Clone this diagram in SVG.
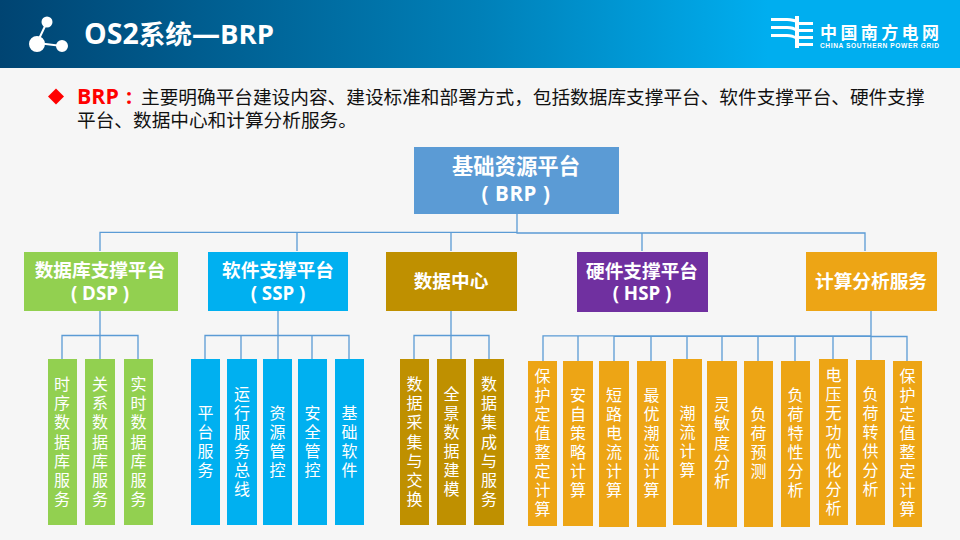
<svg xmlns="http://www.w3.org/2000/svg" width="960" height="540" viewBox="0 0 960 540">
<defs><linearGradient id="hdr" x1="0" y1="0" x2="1" y2="0"><stop offset="0" stop-color="#004472"/><stop offset="0.5" stop-color="#0080b8"/><stop offset="0.8" stop-color="#00aeef"/><stop offset="1" stop-color="#00aeef"/></linearGradient></defs>
<style>
text{font-family:"Liberation Sans","Noto Sans CJK SC",sans-serif}
.lat{font-family:"Open Sans","Noto Sans CJK SC",sans-serif}
.w{fill:#fff;font-weight:700;text-anchor:middle}
.t1{font-size:21.33px}.t2{font-size:18.67px}
.v{fill:#fff;font-family:"Noto Sans CJK SC",sans-serif;font-size:16px;text-anchor:middle;writing-mode:vertical-rl;letter-spacing:3.1px}
.b{fill:#111;font-size:18.67px}
.c{fill:none;stroke:#5b9bd5;stroke-width:1.3}
.g{fill:#92d050}.s{fill:#00b0f0}.d{fill:#bf9000}.o{fill:#eda515}
</style>
<rect width="960" height="540" fill="#f6f6f6"/>
<g id="header">
<rect width="960" height="68" fill="url(#hdr)"/>
<g id="icon" fill="#fff" stroke="#fff" stroke-width="2"><path d="M47 22L37 43L62 46" fill="none"/><circle cx="47" cy="22" r="4.500"/><circle cx="37" cy="44" r="7"/><circle cx="62" cy="46" r="5"/></g>
<text x="84" y="44" fill="#fff" font-size="26.67" font-weight="700" class="lat"><tspan font-size="28.500">OS2</tspan>系统<tspan font-size="28">—</tspan><tspan font-size="27.500">BRP</tspan></text>
<g id="logo" fill="#fff"><path d="M771 18h16c5 0 8 1 10 2v3c-3-1-6-2-10-2h-16zM771 26h16c5 0 8 1 10 3v3c-3-2-6-3-10-3h-16zM771 34h16c4 0 7 1 10 3v3c-3-2-6-3-10-3h-16z"/><path d="M795 16h4v32h-4zM799 22h14v3h-14zM799 29h14v3h-14zM799 36h14v3h-14zM799 43h14v3h-14z"/></g>
<text x="820" y="38.500" fill="#fff" font-size="17" font-weight="700" letter-spacing="3.400">中国南方电网</text>
<text x="820" y="48" fill="#fff" font-size="6.600" font-weight="700" textLength="119">CHINA SOUTHERN POWER GRID</text>
</g>
<g id="intro">
<path d="M56 88.500l8 8l-8 8l-8-8z" fill="#f00"/>
<text x="77" y="104" font-size="21.33" font-weight="700" fill="#f00" class="lat">BRP</text>
<text x="126" y="104" font-size="21.33" font-weight="700" fill="#f00" class="lat">:</text>
<text x="141" y="104" class="b">主要明确平台建设内容、建设标准和部署方式，包括数据库支撑平台、软件支撑平台、硬件支撑</text>
<text x="77" y="127" class="b">平台、数据中心和计算分析服务。</text>
</g>
<g id="connectors" class="c">
<path d="M517 214V233H865V251M517 232.300H100V251M297 232.300V251M451 232.300V251M642 233V251"/>
<path d="M100 311V359M62 359V335.500H138V359"/>
<path d="M278 311V359M205 359V335.500H349V359M241 335.500V359M312 335.500V359"/>
<path d="M451 311V359M414 359V335.500H489V359"/>
<path d="M871 311V360M543 361V335.800H871M614 336.300H871M871 336.500H907V361M578 336V361M614 336V361M651 336V361M687 336V359M722 336V361M758 336V361M795 336V361M833 336V359"/>
</g>
<g id="brp"><rect x="414" y="147" width="205" height="67" fill="#5b9bd5"/><text x="516" y="174" class="w t1">基础资源平台</text><text x="516" y="200.500" class="w lat" font-size="20.500" letter-spacing="0.600">( BRP )</text></g>
<g id="dsp"><rect class="g" x="24" y="252" width="154" height="59"/><text x="100" y="277" class="w t2">数据库支撑平台</text><text x="100" y="300" class="w t2 lat">( DSP )</text></g>
<g id="ssp"><rect class="s" x="208" y="252" width="140" height="59"/><text x="278" y="277" class="w t2">软件支撑平台</text><text x="278" y="300" class="w t2 lat">( SSP )</text></g>
<g id="dc"><rect class="d" x="386" y="252" width="131" height="59"/><text x="451" y="288" class="w t2">数据中心</text></g>
<g id="hsp"><rect x="577" y="252" width="131" height="60" fill="#7030a0"/><text x="642" y="278" class="w t2">硬件支撑平台</text><text x="642" y="300" class="w t2 lat">( HSP )</text></g>
<g id="calc"><rect class="o" x="806" y="252" width="131" height="59"/><text x="871" y="288" class="w t2">计算分析服务</text></g>
<g id="dsp1"><rect class="g" x="48" y="359" width="29" height="166"/><text x="62" y="443" class="v">时序数据库服务</text></g>
<g id="dsp2"><rect class="g" x="85" y="359" width="30" height="166"/><text x="100" y="443" class="v">关系数据库服务</text></g>
<g id="dsp3"><rect class="g" x="124" y="359" width="29" height="166"/><text x="138.500" y="443" class="v">实时数据库服务</text></g>
<g id="ssp1"><rect class="s" x="191" y="359" width="29" height="166"/><text x="205.500" y="443" class="v">平台服务</text></g>
<g id="ssp2"><rect class="s" x="227" y="359" width="30" height="166"/><text x="242" y="443" class="v">运行服务总线</text></g>
<g id="ssp3"><rect class="s" x="263" y="359" width="29" height="166"/><text x="277.500" y="443" class="v">资源管控</text></g>
<g id="ssp4"><rect class="s" x="298" y="359" width="29" height="166"/><text x="312.500" y="443" class="v">安全管控</text></g>
<g id="ssp5"><rect class="s" x="335" y="359" width="29" height="166"/><text x="349.500" y="443" class="v">基础软件</text></g>
<g id="dc1"><rect class="d" x="400" y="359" width="29" height="166"/><text x="414.500" y="443" class="v">数据采集与交换</text></g>
<g id="dc2"><rect class="d" x="437" y="359" width="29" height="166"/><text x="451.500" y="443" class="v">全景数据建模</text></g>
<g id="dc3"><rect class="d" x="474" y="359" width="30" height="166"/><text x="489" y="443" class="v">数据集成与服务</text></g>
<g id="c1"><rect class="o" x="528" y="361" width="29" height="165"/><text x="542.500" y="444" class="v">保护定值整定计算</text></g>
<g id="c2"><rect class="o" x="563" y="361" width="30" height="165"/><text x="578" y="444" class="v">安自策略计算</text></g>
<g id="c3"><rect class="o" x="599" y="361" width="30" height="166"/><text x="614" y="444" class="v">短路电流计算</text></g>
<g id="c4"><rect class="o" x="637" y="361" width="29" height="166"/><text x="651.500" y="444" class="v">最优潮流计算</text></g>
<g id="c5"><rect class="o" x="673" y="359" width="29" height="166"/><text x="687.500" y="443" class="v">潮流计算</text></g>
<g id="c6"><rect class="o" x="707" y="361" width="30" height="166"/><text x="722" y="444" class="v">灵敏度分析</text></g>
<g id="c7"><rect class="o" x="744" y="361" width="29" height="166"/><text x="758.500" y="444" class="v">负荷预测</text></g>
<g id="c8"><rect class="o" x="781" y="361" width="29" height="166"/><text x="795.500" y="444" class="v">负荷特性分析</text></g>
<g id="c9"><rect class="o" x="819" y="359" width="29" height="166"/><text x="833.500" y="443" class="v">电压无功优化分析</text></g>
<g id="c10"><rect class="o" x="856" y="360" width="29" height="165"/><text x="870.500" y="443" class="v">负荷转供分析</text></g>
<g id="c11"><rect class="o" x="893" y="361" width="29" height="166"/><text x="907.500" y="444" class="v">保护定值整定计算</text></g>
</svg>
